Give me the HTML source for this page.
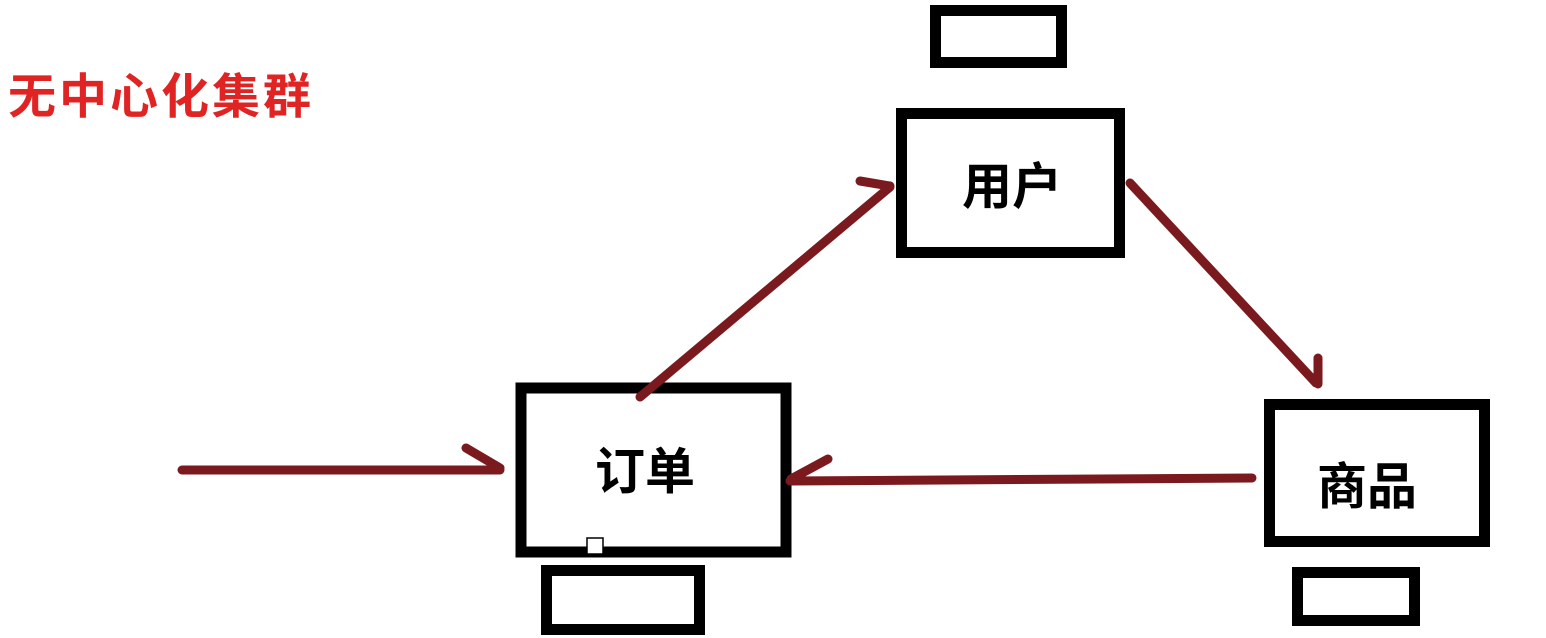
<!DOCTYPE html>
<html><head><meta charset="utf-8"><style>
html,body{margin:0;padding:0;background:#fff;}
svg{display:block}
text{font-family:"Liberation Sans","Noto Sans CJK SC",sans-serif;font-weight:bold}
</style></head><body>
<svg width="1546" height="638" viewBox="0 0 1546 638" xmlns="http://www.w3.org/2000/svg">
<text x="8" y="113" font-size="48" letter-spacing="3" fill="#e02424">无中心化集群</text>
<g fill="none" stroke="#000" stroke-width="11">
<rect x="521" y="388" width="265" height="164"/>
<rect x="546.5" y="570.5" width="153" height="59"/>
<rect x="901.5" y="113.5" width="218" height="139"/>
<rect x="935.5" y="10.5" width="126" height="52"/>
<rect x="1269.5" y="404.5" width="215" height="137"/>
<rect x="1297.5" y="572.5" width="117" height="48"/>
</g>
<rect x="587" y="538" width="16" height="16" fill="#fff" stroke="#000" stroke-width="1.5"/>
<g font-size="50" fill="#000" text-anchor="middle">
<text x="645" y="489">订单</text>
<text x="1012" y="204">用户</text>
<text x="1367" y="504">商品</text>
</g>
<g stroke="#7a1a1e" stroke-width="9" stroke-linecap="round" fill="none">
<path d="M182 470 L500 470 M466 448 L500 468"/>
<path d="M640 397 L890 187 M860 181 L890 186"/>
<path d="M1130 183 L1316 383 M1318 358 L1318 384"/>
<path d="M1252 478 L790 481 M828 459 L791 479"/>
</g>
</svg>
</body></html>
